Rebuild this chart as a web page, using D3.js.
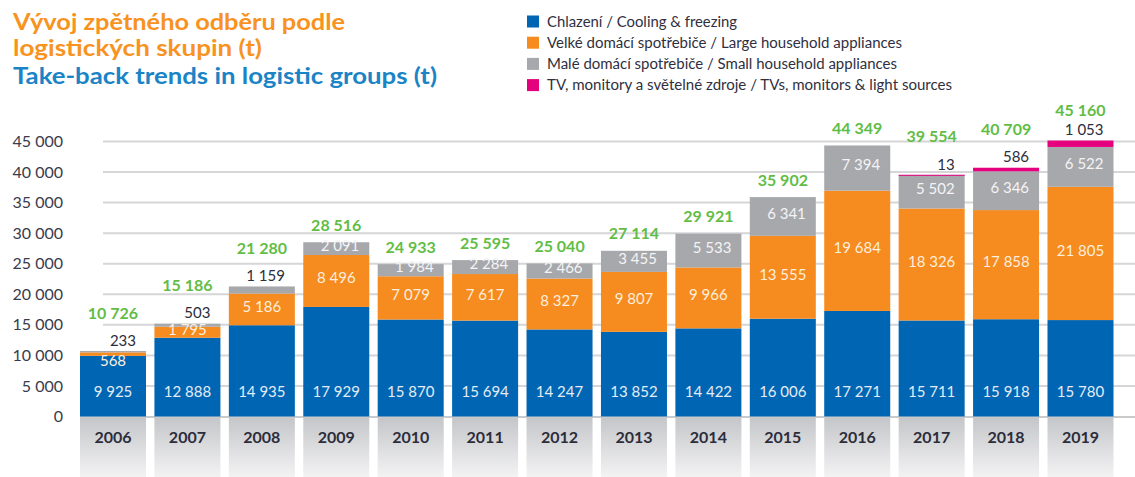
<!DOCTYPE html>
<html>
<head>
<meta charset="utf-8">
<script src="https://cdn.jsdelivr.net/npm/d3@7"></script>
<style>
  html, body { margin: 0; padding: 0; background: #fff; }
  svg { display: block; font-family: Lato, "Open Sans", sans-serif; }
</style>
</head>
<body>
<svg id="chart" width="1135" height="477"></svg>
<script>
// Take-back volumes by logistic group, tonnes per year
const years = ["2006","2007","2008","2009","2010","2011","2012","2013","2014","2015","2016","2017","2018","2019"];
const cooling = [9925,12888,14935,17929,15870,15694,14247,13852,14422,16006,17271,15711,15918,15780];
const largeAppliances = [568,1795,5186,8496,7079,7617,8327,9807,9966,13555,19684,18326,17858,21805];
const smallAppliances = [233,503,1159,2091,1984,2284,2466,3455,5533,6341,7394,5502,6346,6522];
const tvsLights = [0,0,0,0,0,0,0,0,0,0,0,13,586,1053];
const totals = [10726,15186,21280,28516,24933,25595,25040,27114,29921,35902,44349,39554,40709,45160];
const yTicks = [0,5000,10000,15000,20000,25000,30000,35000,40000,45000];

const seriesKeys = ["cooling","large","small","tvs"];
const seriesColors = {cooling:"#0066b3", large:"#f68b1f", small:"#a7a8ac", tvs:"#e5007e"};
const legendLabels = [
  "Chlazení / Cooling & freezing",
  "Velké domácí spotřebiče / Large household appliances",
  "Malé domácí spotřebiče / Small household appliances",
  "TV, monitory a světelné zdroje / TVs, monitors & light sources"
];

const rows = years.map((y, i) => ({
  year: y, cooling: cooling[i], large: largeAppliances[i],
  small: smallAppliances[i], tvs: tvsLights[i], total: totals[i]
}));

const fmt = d3.formatLocale({decimal: ",", thousands: "\u00a0", grouping: [3], currency: ["", ""]}).format(",d");

const svg = d3.select("#chart");
const W = 1135, H = 477;

const x = d3.scaleBand().domain(years).range([80, 1113.5]).paddingInner(0.113).paddingOuter(0);
const y = d3.scaleLinear().domain([0, 45000]).range([416.5, 141.5]);

// gradient for the year tabs under the bars
const defs = svg.append("defs");
const grad = defs.append("linearGradient").attr("id", "tab").attr("x1", 0).attr("y1", 0).attr("x2", 0).attr("y2", 1);
grad.append("stop").attr("offset", "0%").attr("stop-color", "#c5c6c9");
grad.append("stop").attr("offset", "100%").attr("stop-color", "#f4f4f5");

// title
const title = svg.append("g").attr("font-weight", 700);
title.append("text").attr("x", 13).attr("y", 30).attr("font-size", 23.5).attr("fill", "#f7931e")
  .attr("textLength", 332).attr("lengthAdjust", "spacingAndGlyphs").text("Vývoj zpětného odběru podle");
title.append("text").attr("x", 13).attr("y", 56).attr("font-size", 23.5).attr("fill", "#f7931e")
  .attr("textLength", 249).attr("lengthAdjust", "spacingAndGlyphs").text("logistických skupin (t)");
title.append("text").attr("x", 13).attr("y", 84).attr("font-size", 23.5).attr("fill", "#1b84c6")
  .attr("textLength", 424).attr("lengthAdjust", "spacingAndGlyphs").text("Take-back trends in logistic groups (t)");

// legend
const legend = svg.append("g").attr("transform", "translate(527,0)");
const legendWidths = [190, 355, 350, 405];
seriesKeys.forEach((k, i) => {
  const cy = 21.5 + i * 21.2;
  legend.append("rect").attr("x", 0).attr("y", cy - 6).attr("width", 12).attr("height", 12).attr("fill", seriesColors[k]);
  legend.append("text").attr("x", 20).attr("y", cy).attr("dy", "0.35em").attr("font-size", 14.5)
    .attr("fill", "#2f2f40").attr("textLength", legendWidths[i]).attr("lengthAdjust", "spacingAndGlyphs")
    .text(legendLabels[i]);
});

// gridlines
svg.append("g").selectAll("line").data(yTicks.filter(d => d > 0)).join("line")
  .attr("x1", 103).attr("x2", W).attr("y1", d => y(d)).attr("y2", d => y(d))
  .attr("stroke", "#d6d6d8").attr("stroke-width", 2);
svg.append("line").attr("x1", 80).attr("x2", W).attr("y1", y(0) + 0.5).attr("y2", y(0) + 0.5)
  .attr("stroke", "#c9cacc").attr("stroke-width", 2);

// y axis labels
const yAxis = d3.axisLeft(y).tickValues(yTicks).tickSize(0).tickPadding(0).tickFormat(fmt);
svg.append("g").attr("transform", "translate(63,0)").call(yAxis)
  .call(g => g.select(".domain").remove())
  .call(g => g.selectAll("text").attr("font-size", 16).attr("fill", "#3a3b4c").attr("font-family", "Lato, sans-serif"));

// year tabs
const tabs = svg.append("g");
tabs.selectAll("rect").data(years).join("rect")
  .attr("x", d => x(d)).attr("y", y(0) + 1.5).attr("width", x.bandwidth()).attr("height", H - y(0))
  .attr("fill", "url(#tab)");
tabs.selectAll("text").data(years).join("text")
  .attr("x", d => x(d) + x.bandwidth() / 2).attr("y", 437).attr("dy", "0.35em")
  .attr("text-anchor", "middle").attr("font-size", 16).attr("font-weight", 700).attr("fill", "#2c2d3b")
  .text(d => d);

// stacked bars
const stacked = d3.stack().keys(seriesKeys)(rows);
const bars = svg.append("g");
stacked.forEach(layer => {
  bars.append("g").attr("fill", seriesColors[layer.key])
    .selectAll("rect").data(layer).join("rect")
    .attr("x", d => x(d.data.year))
    .attr("width", x.bandwidth())
    .attr("y", d => y(d[1]))
    .attr("height", d => (d[1] > d[0] ? Math.max(1, y(d[0]) - y(d[1])) : 0));
});

// segment and total labels
const labels = svg.append("g").attr("font-size", 15);
const byKey = {};
stacked.forEach(l => byKey[l.key] = l);

rows.forEach((r, i) => {
  const x0 = x(r.year), bw = x.bandwidth(), cx = x0 + bw / 2, right = x0 + bw - 10;

  // cooling: bottom of the bar
  labels.append("text").attr("x", cx).attr("y", y(0) - 25).attr("dy", "0.35em")
    .attr("text-anchor", "middle").attr("fill", "#e4ecf6").text(fmt(r.cooling));

  // large appliances
  const l = byKey.large[i];
  const lh = y(l[0]) - y(l[1]);
  const ly = lh >= 8 ? (y(l[0]) + y(l[1])) / 2 - 3 : y(l[1]) + 8;
  labels.append("text").attr("x", cx).attr("y", ly).attr("dy", "0.35em")
    .attr("text-anchor", "middle").attr("fill", "#fdeedd").text(fmt(r.large));

  // small appliances and TVs: inside if there is room, otherwise above the bar
  const s = byKey.small[i];
  const sh = y(s[0]) - y(s[1]);
  const top = y(r.cooling + r.large + r.small + r.tvs);
  let darkAbove = null;
  if (sh >= 10) {
    labels.append("text").attr("x", right).attr("y", (y(s[0]) + y(s[1])) / 2 - 3).attr("dy", "0.35em")
      .attr("text-anchor", "end").attr("fill", "#f4f4f6").text(fmt(r.small));
  } else {
    darkAbove = r.small;
  }
  if (r.tvs > 0) darkAbove = r.tvs;
  if (darkAbove !== null) {
    labels.append("text").attr("x", right).attr("y", top - 10.5).attr("dy", "0.35em")
      .attr("text-anchor", "end").attr("fill", "#2c2d3b").text(fmt(darkAbove));
  }

  // total
  const ty = Math.max(110, top - (darkAbove !== null ? 38 : 17));
  labels.append("text").attr("x", cx).attr("y", ty).attr("dy", "0.35em")
    .attr("text-anchor", "middle").attr("font-size", 16).attr("font-weight", 700).attr("fill", "#62bd45")
    .text(fmt(r.total));
});
</script>
</body>
</html>
